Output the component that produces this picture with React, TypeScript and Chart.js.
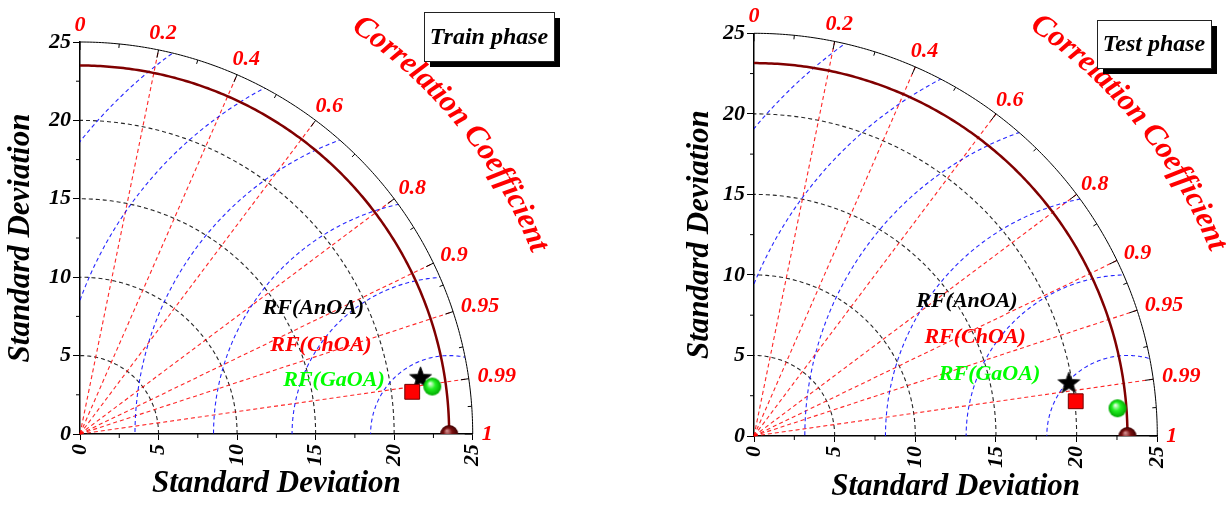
import React, { useEffect, useRef } from 'react';
import { Chart, registerables } from 'chart.js';
Chart.register(...registerables);

// ---------- data ----------
const modelNames = ['RF(AnOA)', 'RF(ChOA)', 'RF(GaOA)'];
const modelColors = ['#000000', '#FF0000', '#00FF00'];
const trainRefStd = 23.5;
const trainStd = [21.97, 21.32, 22.63];
const trainCorr = [0.9868, 0.992, 0.991];
const testRefStd = 23.15;
const testStd = [19.79, 20.06, 22.6];
const testCorr = [0.9863, 0.9942, 0.9971];

const stdMax = 25;
const stdMinorTicks = [2.5, 7.5, 12.5, 17.5, 22.5];
const stdArcs = [5, 10, 15, 20];
const rmsArcs = [5, 10, 15, 20, 25, 30];
const corrMajor = [0, 0.2, 0.4, 0.6, 0.8, 0.9, 0.95, 0.99, 1];
const corrLabels = ['0', '0.2', '0.4', '0.6', '0.8', '0.9', '0.95', '0.99', '1'];
const corrMinor = [0.1, 0.3, 0.5, 0.7, 0.85, 0.925, 0.975, 0.9975];
const corrRays = [0.2, 0.4, 0.6, 0.8, 0.9, 0.95, 0.99];

const FONT = '"Liberation Serif", "Times New Roman", serif';

type Panel = {
  title: string;
  refStd: number;
  std: number[];
  corr: number[];
  pad: { left: number; right: number; top: number };
  yWidth: number;
  xHeight: number;
  xTitlePad: number;
  box: number[];
  legendPos: number[][];
  ccRadius: number;
  ccMid: number;
};

const panels: Panel[] = [
  {
    title: 'Train phase',
    refStd: trainRefStd,
    std: trainStd,
    corr: trainCorr,
    pad: { left: 0, right: 140.3, top: 42 },
    yWidth: 80,
    xHeight: 72,
    xTitlePad: 3,
    box: [424, 12, 130, 49],
    legendPos: [[14.86, 8.04], [15.34, 5.68], [16.17, 3.44]],
    ccRadius: 31.5,
    ccMid: 39,
  },
  {
    title: 'Test phase',
    refStd: testRefStd,
    std: testStd,
    corr: testCorr,
    pad: { left: 66, right: 68.7, top: 33.3 },
    yWidth: 75,
    xHeight: 70,
    xTitlePad: 0,
    box: [484, 20, 114, 48],
    legendPos: [[13.2, 8.39], [13.71, 6.15], [14.6, 3.85]],
    ccRadius: 31.0,
    ccMid: 39,
  },
];

// ---------- marker images ----------
function makeStar(outer: number, color: string) {
  const s = Math.ceil(outer * 2 + 4);
  const c = document.createElement('canvas');
  c.width = s;
  c.height = s;
  const g = c.getContext('2d')!;
  const cx = s / 2, cy = s / 2, inner = outer * 0.42;
  g.beginPath();
  for (let i = 0; i < 10; i++) {
    const r = i % 2 ? inner : outer;
    const a = -Math.PI / 2 + (i * Math.PI) / 5;
    const px = cx + r * Math.cos(a), py = cy + r * Math.sin(a);
    if (i) g.lineTo(px, py); else g.moveTo(px, py);
  }
  g.closePath();
  g.fillStyle = color;
  g.fill();
  g.strokeStyle = '#222';
  g.lineWidth = 1;
  g.stroke();
  return c;
}

function makeSphere(r: number, light: string, mid: string, dark: string) {
  const s = Math.ceil(r * 2 + 2);
  const c = document.createElement('canvas');
  c.width = s;
  c.height = s;
  const g = c.getContext('2d')!;
  const cx = s / 2, cy = s / 2;
  const grad = g.createRadialGradient(cx - r * 0.25, cy - r * 0.35, r * 0.05, cx, cy, r);
  grad.addColorStop(0, light);
  grad.addColorStop(0.45, mid);
  grad.addColorStop(1, dark);
  g.beginPath();
  g.arc(cx, cy, r, 0, Math.PI * 2);
  g.fillStyle = grad;
  g.fill();
  return c;
}

function taylorPlugin(panel: Panel) {
  return {
    id: 'taylor',
    beforeDatasetsDraw(chart: any) {
      const { ctx } = chart;
      const xs = chart.scales.x, ys = chart.scales.y;
      const P = (vx: number, vy: number) => [xs.getPixelForValue(vx), ys.getPixelForValue(vy)];
      const polar = (r: number, a: number) => P(r * Math.cos(a), r * Math.sin(a));
      const path = (fn: (a: number) => number[], a0: number, a1: number, n: number) => {
        ctx.beginPath();
        for (let i = 0; i <= n; i++) {
          const [px, py] = fn(a0 + ((a1 - a0) * i) / n);
          if (i) ctx.lineTo(px, py); else ctx.moveTo(px, py);
        }
      };
      const [ox, oy] = P(0, 0);
      ctx.save();
      ctx.lineWidth = 1.1;
      ctx.setLineDash([4, 3]);
      // std arcs
      ctx.strokeStyle = 'rgba(0,0,0,0.85)';
      stdArcs.forEach((r) => {
        path((a) => polar(r, a), 0, Math.PI / 2, 120);
        ctx.stroke();
      });
      // correlation rays
      ctx.strokeStyle = 'rgba(255,0,0,0.85)';
      corrRays.forEach((c) => {
        const a = Math.acos(c);
        const [x1, y1] = polar(stdMax, a);
        ctx.beginPath();
        ctx.moveTo(ox, oy);
        ctx.lineTo(x1, y1);
        ctx.stroke();
      });
      // RMSD arcs
      ctx.save();
      path((a) => polar(stdMax, a), 0, Math.PI / 2, 200);
      ctx.lineTo(ox, oy);
      ctx.closePath();
      ctx.clip();
      ctx.strokeStyle = 'rgba(0,0,255,0.85)';
      rmsArcs.forEach((r) => {
        path((a) => P(panel.refStd + r * Math.cos(a), r * Math.sin(a)), 0, Math.PI, 300);
        ctx.stroke();
      });
      ctx.restore();
      ctx.setLineDash([]);
      // reference arc
      ctx.strokeStyle = '#800000';
      ctx.lineWidth = 2.5;
      path((a) => polar(panel.refStd, a), 0, Math.PI / 2, 200);
      ctx.stroke();
      // outer arc
      ctx.strokeStyle = '#000';
      ctx.lineWidth = 1;
      path((a) => polar(stdMax, a), 0, Math.PI / 2, 200);
      ctx.stroke();
      // outer arc ticks (inward)
      const tick = (c: number, len: number) => {
        const a = Math.acos(c);
        const [px, py] = polar(stdMax, a);
        const dx = px - ox, dy = py - oy;
        const d = Math.hypot(dx, dy);
        ctx.beginPath();
        ctx.moveTo(px, py);
        ctx.lineTo(px - (dx / d) * len, py - (dy / d) * len);
        ctx.stroke();
      };
      corrMajor.forEach((c) => tick(c, 8));
      corrMinor.forEach((c) => tick(c, 4));
      // minor axis ticks
      const area = chart.chartArea;
      stdMinorTicks.forEach((v) => {
        const py = ys.getPixelForValue(v);
        ctx.beginPath();
        ctx.moveTo(area.left, py);
        ctx.lineTo(area.left - 4, py);
        ctx.stroke();
        const px = xs.getPixelForValue(v);
        ctx.beginPath();
        ctx.moveTo(px, area.bottom);
        ctx.lineTo(px, area.bottom + 4);
        ctx.stroke();
      });
      ctx.restore();
    },
    afterDraw(chart: any) {
      const { ctx } = chart;
      const xs = chart.scales.x, ys = chart.scales.y;
      const P = (vx: number, vy: number) => [xs.getPixelForValue(vx), ys.getPixelForValue(vy)];
      const [ox, oy] = P(0, 0);
      ctx.save();
      // correlation labels
      ctx.font = `italic bold 22px ${FONT}`;
      ctx.fillStyle = '#FF0000';
      ctx.textAlign = 'center';
      ctx.textBaseline = 'middle';
      const gap = 9, h = 16;
      corrMajor.forEach((c, i) => {
        const a = Math.acos(c);
        const [px, py] = P(stdMax * Math.cos(a), stdMax * Math.sin(a));
        const w = ctx.measureText(corrLabels[i]).width;
        const cx = px + Math.cos(a) * (gap + w / 2);
        const cy = py - Math.sin(a) * (gap + h / 2);
        ctx.fillText(corrLabels[i], cx, cy);
      });
      // curved axis title
      ctx.font = `italic bold 31px ${FONT}`;
      const text = 'Correlation Coefficient';
      const rpx = xs.getPixelForValue(panel.ccRadius) - ox;
      const total = ctx.measureText(text).width;
      const mid = (panel.ccMid * Math.PI) / 180;
      let s = 0;
      for (const ch of text) {
        const w = ctx.measureText(ch).width;
        const a = mid + (total / 2 - s - w / 2) / rpx;
        const cx = ox + rpx * Math.cos(a);
        const cy = oy - rpx * Math.sin(a);
        ctx.save();
        ctx.translate(cx, cy);
        ctx.rotate(Math.PI / 2 - a);
        ctx.fillText(ch, 0, 0);
        ctx.restore();
        s += w;
      }
      // legend texts
      ctx.font = `italic bold 22px ${FONT}`;
      panel.legendPos.forEach((p, i) => {
        const [px, py] = P(p[0], p[1]);
        ctx.fillStyle = modelColors[i];
        ctx.fillText(modelNames[i], px, py);
      });
      // title box
      const [bx, by, bw, bh] = panel.box;
      ctx.fillStyle = '#000';
      ctx.fillRect(bx + 6, by + 6, bw, bh);
      ctx.fillStyle = '#fff';
      ctx.fillRect(bx, by, bw, bh);
      ctx.strokeStyle = '#222';
      ctx.lineWidth = 1;
      ctx.strokeRect(bx + 0.5, by + 0.5, bw, bh);
      ctx.fillStyle = '#000';
      ctx.font = `italic bold 24px ${FONT}`;
      ctx.fillText(panel.title, bx + bw / 2, by + bh / 2 + 1);
      ctx.restore();
    },
  };
}

function buildChart(canvas: HTMLCanvasElement, panel: Panel) {
  const pt = (i: number) => ({
    x: panel.std[i] * panel.corr[i],
    y: panel.std[i] * Math.sqrt(1 - panel.corr[i] * panel.corr[i]),
  });
  const tickFont = { family: FONT, size: 22, style: 'italic' as const, weight: 'bold' as const };
  const titleFont = { family: FONT, size: 31, style: 'italic' as const, weight: 'bold' as const };
  return new Chart(canvas, {
    type: 'scatter',
    data: {
      datasets: [
        {
          label: 'Reference',
          data: [{ x: panel.refStd, y: 0 }],
          pointStyle: makeSphere(9, '#d08a8a', '#7a1010', '#3d0000') as any,
          pointRadius: 9,
          clip: 0 as any,
        },
        {
          label: modelNames[2],
          data: [pt(2)],
          pointStyle: makeSphere(9, '#eaffea', '#22f022', '#00a800') as any,
          pointRadius: 9,
        },
        {
          label: modelNames[1],
          data: [pt(1)],
          pointStyle: 'rect',
          pointRadius: 10.5,
          backgroundColor: '#FF0000',
          borderColor: '#700000',
          borderWidth: 1,
        },
        {
          label: modelNames[0],
          data: [pt(0)],
          pointStyle: makeStar(11.5, '#000') as any,
          pointRadius: 11,
        },
      ],
    },
    options: {
      responsive: false,
      animation: false,
      events: [],
      layout: { padding: { left: panel.pad.left, right: panel.pad.right, top: panel.pad.top, bottom: 0 } },
      plugins: { legend: { display: false }, tooltip: { enabled: false } },
      scales: {
        x: {
          type: 'linear',
          min: 0,
          max: stdMax,
          position: 'bottom',
          ticks: { stepSize: 5, minRotation: 90, maxRotation: 90, autoSkip: false, color: '#000', font: tickFont, padding: 4 },
          grid: { drawOnChartArea: false, drawTicks: true, tickLength: 6, color: '#000' },
          border: { display: true, color: '#000', width: 1.5 },
          title: { display: true, text: 'Standard Deviation', color: '#000', font: titleFont, padding: { top: 0, bottom: panel.xTitlePad } },
          afterFit: (s: any) => { s.height = panel.xHeight; },
        },
        y: {
          type: 'linear',
          min: 0,
          max: stdMax,
          position: 'left',
          ticks: { stepSize: 5, color: '#000', font: tickFont, padding: 2 },
          grid: { drawOnChartArea: false, drawTicks: true, tickLength: 7, color: '#000' },
          border: { display: true, color: '#000', width: 1.5 },
          title: { display: true, text: 'Standard Deviation', color: '#000', font: titleFont, padding: { top: 2, bottom: 0 } },
          afterFit: (s: any) => { s.width = panel.yWidth; },
        },
      },
    } as any,
    plugins: [taylorPlugin(panel)],
  });
}

export default function App() {
  const leftRef = useRef<HTMLCanvasElement>(null);
  const rightRef = useRef<HTMLCanvasElement>(null);
  useEffect(() => {
    const charts = [buildChart(leftRef.current!, panels[0]), buildChart(rightRef.current!, panels[1])];
    return () => charts.forEach((c) => c.destroy());
  }, []);
  return (
    <div style={{ position: 'fixed', left: 0, top: 0, width: 1226, height: 506, background: '#fff' }}>
      <canvas ref={leftRef} width={613} height={506} style={{ position: 'absolute', left: 0, top: 0 }} />
      <canvas ref={rightRef} width={613} height={506} style={{ position: 'absolute', left: 613, top: 0 }} />
    </div>
  );
}
